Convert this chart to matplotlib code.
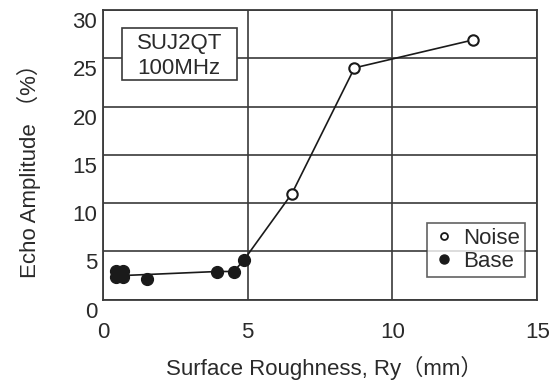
import matplotlib
matplotlib.use("Agg")
import matplotlib.pyplot as plt
import matplotlib.transforms as mtransforms
from matplotlib.lines import Line2D
from matplotlib.patches import Rectangle

plt.rcParams['font.family'] = ['Liberation Sans', 'DejaVu Sans']

# Measured echo amplitude vs. surface roughness
noise_x = [6.53, 8.69, 12.8]
noise_y = [11.0, 24.0, 26.9]

base_x = [0.45, 0.7, 0.45, 0.7, 1.53, 3.95, 4.52, 4.86]
base_y = [3.0, 3.0, 2.4, 2.4, 2.15, 2.93, 2.93, 4.07]

# Trend line drawn through the measurements
trend_x = [0.6, 3.95, 4.52, 4.86, 6.53, 8.69, 12.8]
trend_y = [2.5, 2.93, 2.93, 4.07, 11.0, 24.0, 26.9]

x_ticks = [0, 5, 10, 15]
y_ticks = [0, 5, 10, 15, 20, 25, 30]

ink = '#2a2a2a'
grid_c = '#3a3a3a'
fs = 16

fig = plt.figure(figsize=(5.59, 3.80), dpi=100)
ax = fig.add_axes([0.184, 0.211, 0.777, 0.763])

ax.set_xlim(0, 15)
ax.set_ylim(0, 30)
ax.set_xticks(x_ticks)
ax.set_yticks(y_ticks)
ax.tick_params(length=0, labelsize=fs, colors=ink)
ax.tick_params(axis='y', pad=4)
ax.tick_params(axis='x', pad=16)

# y tick labels sit slightly below their gridlines
offset = mtransforms.ScaledTranslation(0, -10 / 100, fig.dpi_scale_trans)
for lbl in ax.get_yticklabels():
    lbl.set_transform(lbl.get_transform() + offset)

ax.grid(True, color=grid_c, linewidth=1.2)
ax.set_axisbelow(True)
for s in ax.spines.values():
    s.set_color(grid_c)
    s.set_linewidth(1.3)

ax.plot(trend_x, trend_y, color='#1a1a1a', linewidth=1.2, zorder=3)
ax.plot(base_x, base_y, 'o', color='#1a1a1a', markersize=8.5, zorder=4,
        linestyle='none')
ax.plot(noise_x, noise_y, 'o', markerfacecolor='white', markeredgecolor='#1a1a1a',
        markeredgewidth=1.5, markersize=7.5, zorder=5, linestyle='none')

lab_family = ['Liberation Sans', 'Noto Sans CJK JP']
ax.set_xlabel('Surface Roughness, Ry\uff08mm\uff09', fontsize=fs, color=ink,
              family=lab_family)
ax.set_ylabel('Echo Amplitude \uff08%\uff09', fontsize=fs, color=ink,
              family=lab_family)
ax.xaxis.set_label_coords(0.51, -0.235)
ax.xaxis.label.set_va('center')
ax.yaxis.set_label_coords(-0.17, 0.465)
ax.yaxis.label.set_va('center')

# Condition box
ax.add_patch(Rectangle((0.044, 0.759), 0.265, 0.179, transform=ax.transAxes,
                       facecolor='white', edgecolor=grid_c, linewidth=1.2,
                       zorder=6))
ax.text(0.176, 0.883, 'SUJ2QT', transform=ax.transAxes, ha='center',
        va='center', fontsize=fs, color=ink, zorder=7)
ax.text(0.176, 0.797, '100MHz', transform=ax.transAxes, ha='center',
        va='center', fontsize=fs, color=ink, zorder=7)

handles = [
    Line2D([], [], marker='o', linestyle='none', markerfacecolor='white',
           markeredgecolor='#1a1a1a', markeredgewidth=1.3, markersize=5),
    Line2D([], [], marker='o', linestyle='none', color='#1a1a1a', markersize=6.5),
]
leg = ax.legend(handles, ['Noise', 'Base'], loc='lower right',
                bbox_to_anchor=(0.972, 0.079), fontsize=fs, frameon=True,
                fancybox=False, handlelength=1.1, handletextpad=0.3,
                borderpad=0.22, labelspacing=0.08, borderaxespad=0)
leg.get_frame().set_edgecolor(grid_c)
leg.get_frame().set_linewidth(1.2)
leg.set_zorder(8)
for t in leg.get_texts():
    t.set_color(ink)

fig.savefig('out.png', dpi=100, facecolor='white')
